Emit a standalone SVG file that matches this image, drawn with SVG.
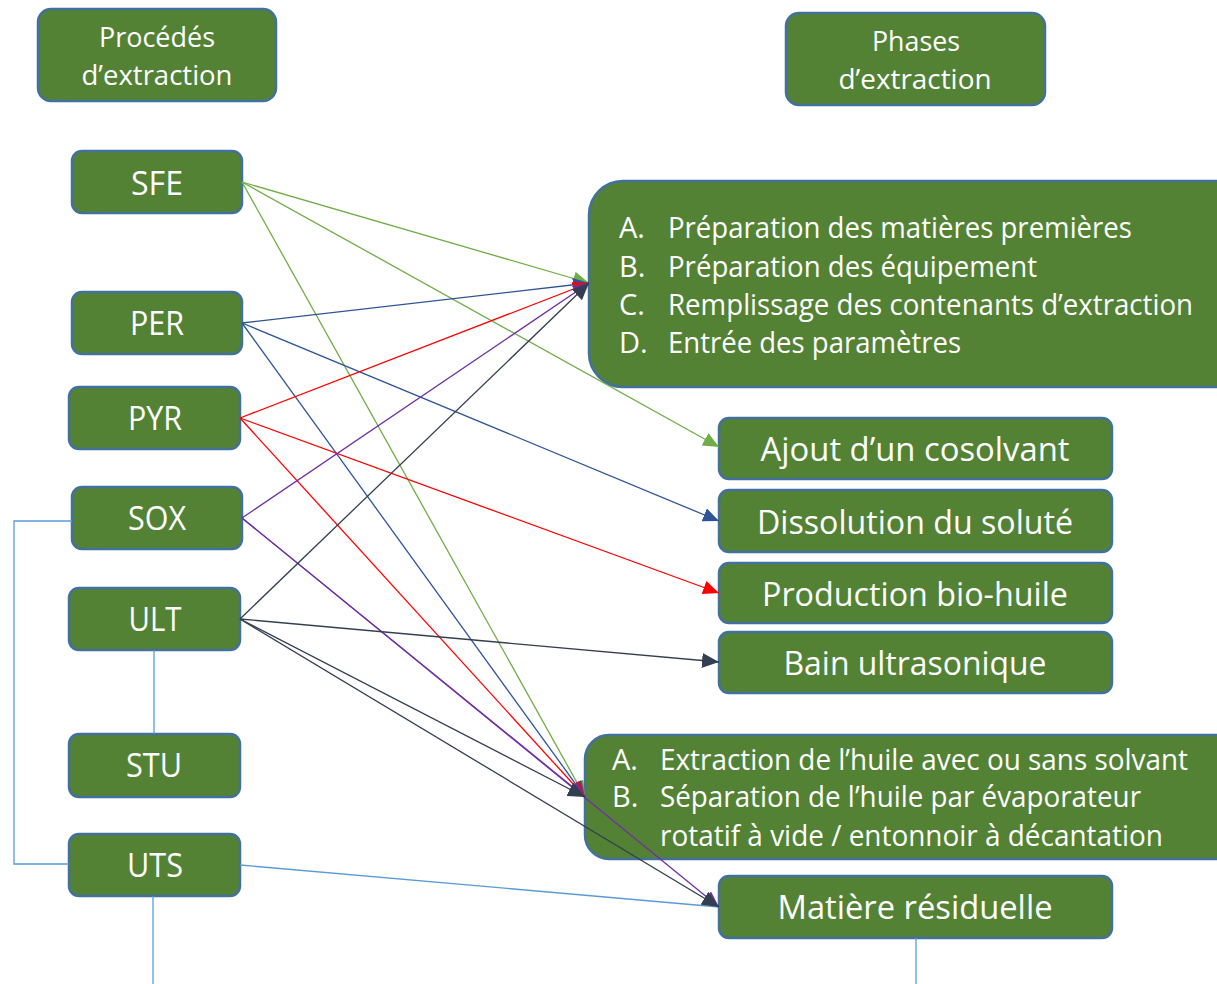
<svg xmlns="http://www.w3.org/2000/svg" width="1217" height="984" viewBox="0 0 1217 984">
<style>
.box{fill:#548235;stroke:#41719C;stroke-width:2.5}
.t{fill:#FFFFFF;font-family:"Open Sans","Noto Sans","Liberation Sans",sans-serif}
.h{font-size:27px}
.n{font-size:32px}
.l{font-size:29px}
.c{fill:none;stroke-width:1.3}
.g{stroke:#70AD47}
.b{stroke:#2F5597}
.r{stroke:#FF0000}
.p{stroke:#7030A0}
.k{stroke:#333F50}
.lb{stroke:#5B9BD5;stroke-width:1.3;fill:none}
</style>
<defs>
<marker id="ag" markerUnits="userSpaceOnUse" markerWidth="16" markerHeight="14" refX="16" refY="7" orient="auto"><path d="M0,0 L16,7 L0,14 z" fill="#70AD47"/></marker>
<marker id="ab" markerUnits="userSpaceOnUse" markerWidth="16" markerHeight="14" refX="16" refY="7" orient="auto"><path d="M0,0 L16,7 L0,14 z" fill="#2F5597"/></marker>
<marker id="ar" markerUnits="userSpaceOnUse" markerWidth="16" markerHeight="14" refX="16" refY="7" orient="auto"><path d="M0,0 L16,7 L0,14 z" fill="#FF0000"/></marker>
<marker id="ap" markerUnits="userSpaceOnUse" markerWidth="16" markerHeight="14" refX="16" refY="7" orient="auto"><path d="M0,0 L16,7 L0,14 z" fill="#7030A0"/></marker>
<marker id="ak" markerUnits="userSpaceOnUse" markerWidth="17" markerHeight="15" refX="17" refY="7.5" orient="auto"><path d="M0,0 L17,7.5 L0,15 z" fill="#333F50"/></marker>
</defs>
<rect width="1217" height="984" fill="#FFFFFF"/>

<g id="hdr-procedes">
<rect class="box" x="38" y="9" width="238" height="92" rx="13"/>
<text class="t h" x="157" y="47" text-anchor="middle" textLength="116" lengthAdjust="spacingAndGlyphs">Procédés</text>
<text class="t h" x="157" y="85" text-anchor="middle" textLength="151" lengthAdjust="spacingAndGlyphs">d’extraction</text>
</g>
<g id="hdr-phases">
<rect class="box" x="786" y="13" width="259" height="92" rx="13"/>
<text class="t h" x="916" y="51" text-anchor="middle" textLength="88" lengthAdjust="spacingAndGlyphs">Phases</text>
<text class="t h" x="915" y="89" text-anchor="middle" textLength="153" lengthAdjust="spacingAndGlyphs">d’extraction</text>
</g>

<g id="n-sfe">
<rect class="box" x="72" y="151" width="170" height="62" rx="10"/>
<text class="t n" x="157" y="195" text-anchor="middle" textLength="52" lengthAdjust="spacingAndGlyphs">SFE</text>
</g>
<g id="n-per">
<rect class="box" x="72" y="292" width="170" height="62" rx="10"/>
<text class="t n" x="157" y="335" text-anchor="middle" textLength="54" lengthAdjust="spacingAndGlyphs">PER</text>
</g>
<g id="n-pyr">
<rect class="box" x="69" y="387" width="171" height="62" rx="10"/>
<text class="t n" x="155" y="430" text-anchor="middle" textLength="54" lengthAdjust="spacingAndGlyphs">PYR</text>
</g>
<g id="n-sox">
<rect class="box" x="72" y="487" width="170" height="62" rx="10"/>
<text class="t n" x="157" y="530" text-anchor="middle" textLength="58" lengthAdjust="spacingAndGlyphs">SOX</text>
</g>
<g id="n-ult">
<rect class="box" x="69" y="588" width="171" height="62" rx="10"/>
<text class="t n" x="155" y="631" text-anchor="middle" textLength="53" lengthAdjust="spacingAndGlyphs">ULT</text>
</g>
<g id="n-stu">
<rect class="box" x="69" y="734" width="171" height="63" rx="10"/>
<text class="t n" x="154" y="777" text-anchor="middle" textLength="56" lengthAdjust="spacingAndGlyphs">STU</text>
</g>
<g id="n-uts">
<rect class="box" x="69" y="834" width="171" height="62" rx="10"/>
<text class="t n" x="155" y="877" text-anchor="middle" textLength="56" lengthAdjust="spacingAndGlyphs">UTS</text>
</g>

<g id="n-prep">
<rect class="box" x="589" y="181" width="660" height="206" rx="34"/>
<text class="t l" x="619" y="238">A.</text>
<text class="t l" x="668" y="238" textLength="464" lengthAdjust="spacingAndGlyphs">Préparation des matières premières</text>
<text class="t l" x="619" y="277">B.</text>
<text class="t l" x="668" y="277" textLength="369" lengthAdjust="spacingAndGlyphs">Préparation des équipement</text>
<text class="t l" x="619" y="315">C.</text>
<text class="t l" x="668" y="315" textLength="525" lengthAdjust="spacingAndGlyphs">Remplissage des contenants d’extraction</text>
<text class="t l" x="619" y="353">D.</text>
<text class="t l" x="668" y="353" textLength="293" lengthAdjust="spacingAndGlyphs">Entrée des paramètres</text>
</g>

<g id="n-ajout">
<rect class="box" x="719" y="418" width="393" height="61" rx="10"/>
<text class="t n" x="915" y="461" text-anchor="middle" textLength="309" lengthAdjust="spacingAndGlyphs">Ajout d’un cosolvant</text>
</g>
<g id="n-dissolution">
<rect class="box" x="719" y="490" width="393" height="62" rx="10"/>
<text class="t n" x="915" y="534" text-anchor="middle" textLength="316" lengthAdjust="spacingAndGlyphs">Dissolution du soluté</text>
</g>
<g id="n-production">
<rect class="box" x="719" y="563" width="393" height="60" rx="10"/>
<text class="t n" x="915" y="606" text-anchor="middle" textLength="306" lengthAdjust="spacingAndGlyphs">Production bio-huile</text>
</g>
<g id="n-bain">
<rect class="box" x="719" y="632" width="393" height="61" rx="10"/>
<text class="t n" x="915" y="675" text-anchor="middle" textLength="263" lengthAdjust="spacingAndGlyphs">Bain ultrasonique</text>
</g>

<g id="n-extraction">
<rect class="box" x="585" y="735" width="660" height="124" rx="24"/>
<text class="t l" x="612" y="770">A.</text>
<text class="t l" x="660" y="770" textLength="528" lengthAdjust="spacingAndGlyphs">Extraction de l’huile avec ou sans solvant</text>
<text class="t l" x="612" y="807">B.</text>
<text class="t l" x="660" y="807" textLength="481" lengthAdjust="spacingAndGlyphs">Séparation de l’huile par évaporateur</text>
<text class="t l" x="660" y="846" textLength="503" lengthAdjust="spacingAndGlyphs">rotatif à vide / entonnoir à décantation</text>
</g>

<g id="n-matiere">
<rect class="box" x="719" y="876" width="393" height="62" rx="10"/>
<text class="t n" x="915" y="919" text-anchor="middle" textLength="275" lengthAdjust="spacingAndGlyphs">Matière résiduelle</text>
</g>

<g id="connectors">
<path class="lb" d="M72,521 L14,521 L14,864 L69,864"/>
<path class="lb" d="M154,650 L154,734"/>
<path class="lb" d="M153,896 L153,984"/>
<path class="lb" d="M240,865 L719,907"/>
<path class="lb" d="M916,938 L916,984"/>

<path class="c g" d="M242,182 L589,283" marker-end="url(#ag)"/>
<path class="c g" d="M242,182 L719,447" marker-end="url(#ag)"/>
<path class="c g" d="M242,182 L585,797" marker-end="url(#ag)"/>

<path class="c b" d="M242,323 L589,283" marker-end="url(#ab)"/>
<path class="c b" d="M242,323 L719,521" marker-end="url(#ab)"/>
<path class="c b" d="M242,323 L585,797" marker-end="url(#ab)"/>

<path class="c r" d="M240,418 L589,283" marker-end="url(#ar)"/>
<path class="c r" d="M240,418 L719,593" marker-end="url(#ar)"/>
<path class="c r" d="M240,418 L585,797" marker-end="url(#ar)"/>

<path class="c p" d="M242,518 L589,283" marker-end="url(#ap)"/>
<path class="c p" d="M242,518 L585,797" marker-end="url(#ap)"/>
<path class="c p" d="M242,518 L719,907" marker-end="url(#ap)"/>

<path class="c k" d="M240,619 L589,283" marker-end="url(#ak)"/>
<path class="c k" d="M240,619 L719,662" marker-end="url(#ak)"/>
<path class="c k" d="M240,619 L585,797" marker-end="url(#ak)"/>
<path class="c k" d="M240,619 L719,907" marker-end="url(#ak)"/>
</g>
</svg>
